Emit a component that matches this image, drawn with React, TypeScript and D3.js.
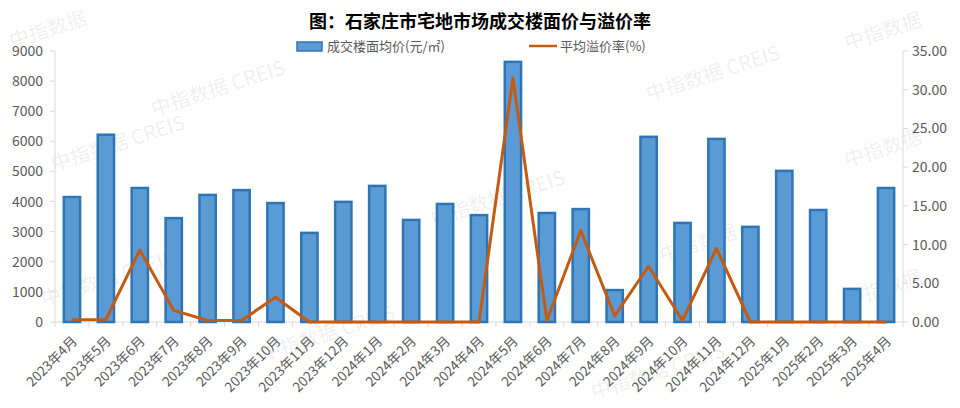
import React from "react";
import * as d3 from "d3";

const categories = ["2023年4月","2023年5月","2023年6月","2023年7月","2023年8月","2023年9月","2023年10月","2023年11月","2023年12月","2024年1月","2024年2月","2024年3月","2024年4月","2024年5月","2024年6月","2024年7月","2024年8月","2024年9月","2024年10月","2024年11月","2024年12月","2025年1月","2025年2月","2025年3月","2025年4月"];
const priceValues = [4150,6220,4450,3450,4220,4380,3950,2960,3990,4520,3390,3920,3550,8640,3620,3750,1060,6150,3290,6080,3160,5020,3720,1100,4450];
const premiumValues = [0.3,0.3,9.3,1.5,0.2,0.2,3.2,0,0,0,0,0,0,31.5,0.2,11.8,0.8,7.2,0.2,9.5,0,0,0,0,0];
const leftTicks = [0,1000,2000,3000,4000,5000,6000,7000,8000,9000];
const rightTicks = [0,5,10,15,20,25,30,35];
const title = "图：石家庄市宅地市场成交楼面价与溢价率";
const legendBar = "成交楼面均价(元/㎡)";
const legendLine = "平均溢价率(%)";
const watermarks = [
  [50, 36, "中指数据"], [220, 95, "中指数据  CREIS"], [120, 150, "中指数据  CREIS"],
  [110, 285, "中指数据  CREIS"], [330, 340, "中指数据  CREIS"], [500, 205, "中指数据  CREIS"],
  [715, 80, "中指数据  CREIS"], [885, 38, "中指数据"], [885, 155, "中指数据"],
  [885, 295, "中指数据"], [660, 378, "中指数据  CREIS"], [700, 250, "中指数据"]
];

const W = 960, H = 408;
const L = 55, R = 903, T = 51, B = 322;
const FONT = "'Noto Sans CJK SC', 'Noto Sans', sans-serif";

export default function App() {
  const x = d3.scaleBand<string>().domain(categories).range([L, R]).paddingInner(0.52).paddingOuter(0.26);
  const step = (R - L) / categories.length;
  const yL = d3.scaleLinear().domain([0, 9000]).range([B, T]);
  const yR = d3.scaleLinear().domain([0, 35]).range([B, T]);
  const line = d3.line<number>().x((_, i) => (x(categories[i]) as number) + x.bandwidth() / 2).y(d => yR(d));
  const axisColor = "#d9d9d9";
  const textColor = "#595959";
  return (
    <svg width={W} height={H} style={{ display: "block", position: "absolute", left: 0, top: 0 }} fontFamily={FONT}>
      <rect width={W} height={H} fill="#fff" />
      {watermarks.map(([wx, wy, t], i) => (
        <text key={i} x={wx as number} y={wy as number} transform={`rotate(-18 ${wx} ${wy})`} textAnchor="middle"
          fontSize={20} fill="#000" fillOpacity={0.08}>{t as string}</text>
      ))}
      <text x={480} y={28} textAnchor="middle" fontSize={18} fontWeight="bold" fill="#000">{title}</text>
      {/* legend */}
      <rect x={297} y={42} width={25} height={9} fill="#5B9BD5" stroke="#2E75B6" strokeWidth={1.5} />
      <text x={327} y={51} fontSize={13} fill={textColor}>{legendBar}</text>
      <line x1={529} x2={557} y1={46} y2={46} stroke="#C55A11" strokeWidth={2.5} />
      <text x={560} y={51} fontSize={13} fill={textColor}>{legendLine}</text>
      {/* axes */}
      <line x1={L} x2={L} y1={T} y2={B} stroke={axisColor} />
      <line x1={R} x2={R} y1={T} y2={B} stroke={axisColor} />
      <line x1={L} x2={R} y1={B} y2={B} stroke={axisColor} />
      {leftTicks.map(t => (
        <g key={"l" + t}>
          <line x1={L - 5} x2={L} y1={yL(t)} y2={yL(t)} stroke={axisColor} />
          <text x={43} y={yL(t) + 5} textAnchor="end" fontSize={14} fill={textColor}>{t}</text>
        </g>
      ))}
      {rightTicks.map(t => (
        <g key={"r" + t}>
          <line x1={R} x2={R + 5} y1={yR(t)} y2={yR(t)} stroke={axisColor} />
          <text x={912} y={yR(t) + 5} textAnchor="start" fontSize={14} fill={textColor}>{t.toFixed(2)}</text>
        </g>
      ))}
      {d3.range(categories.length + 1).map(i => (
        <line key={"xt" + i} x1={L + i * step} x2={L + i * step} y1={B} y2={B + 5} stroke={axisColor} />
      ))}
      {priceValues.map((v, i) => (
        <rect key={"b" + i} x={x(categories[i])} y={yL(v)} width={x.bandwidth()} height={B - yL(v)}
          fill="#5B9BD5" stroke="#2E75B6" strokeWidth={2.5} />
      ))}
      <path d={line(premiumValues) || ""} fill="none" stroke="#C55A11" strokeWidth={3} strokeLinejoin="round" />
      {categories.map((c, i) => {
        const cx = (x(c) as number) + x.bandwidth() / 2 + 6;
        const cy = B + 20;
        return (
          <text key={"xl" + i} x={cx} y={cy} transform={`rotate(-45 ${cx} ${cy})`} textAnchor="end" fontSize={13.5} fill={textColor}>{c}</text>
        );
      })}
    </svg>
  );
}
